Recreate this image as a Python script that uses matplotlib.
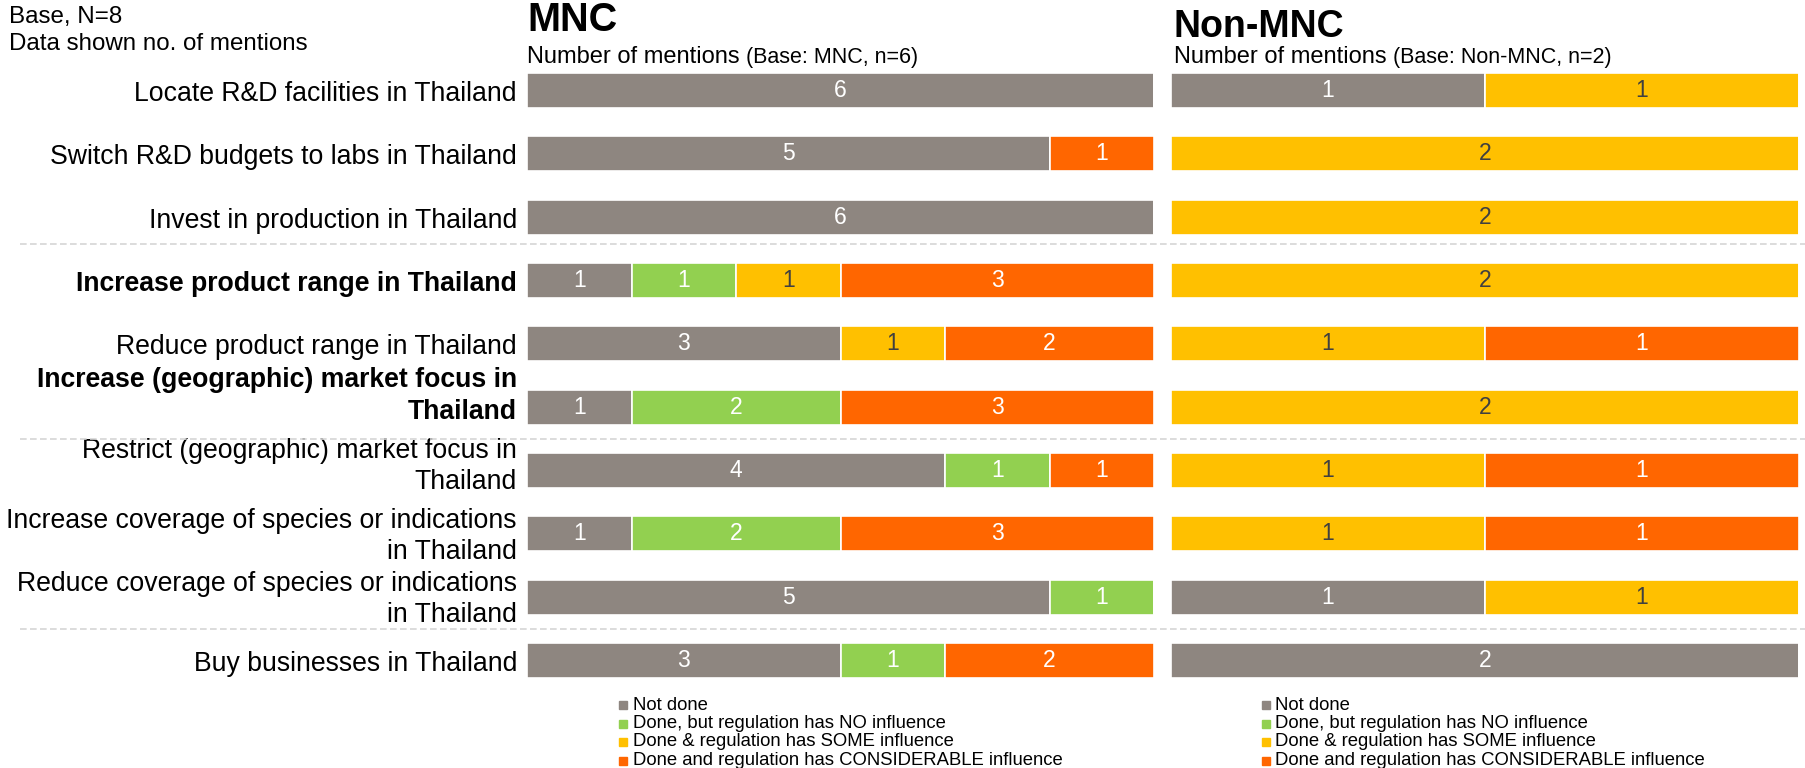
import matplotlib
matplotlib.use("Agg")
import matplotlib.pyplot as plt
from matplotlib.patches import Rectangle
from matplotlib.lines import Line2D
import matplotlib.transforms as mtransforms

plt.rcParams['font.family'] = ['Liberation Sans', 'DejaVu Sans']

# ---- data -------------------------------------------------------------
actions = [
    "Locate R&D facilities in Thailand",
    "Switch R&D budgets to labs in Thailand",
    "Invest in production in Thailand",
    "Increase product range in Thailand",
    "Reduce product range in Thailand",
    "Increase (geographic) market focus in\nThailand",
    "Restrict (geographic) market focus in\nThailand",
    "Increase coverage of species or indications\nin Thailand",
    "Reduce coverage of species or indications\nin Thailand",
    "Buy businesses in Thailand",
]
highlighted_actions = [
    "Increase product range in Thailand",
    "Increase (geographic) market focus in\nThailand",
]
responses = [
    "Not done",
    "Done, but regulation has NO influence",
    "Done & regulation has SOME influence",
    "Done and regulation has CONSIDERABLE influence",
]

mnc_not_done     = [6, 5, 6, 1, 3, 1, 4, 1, 5, 3]
mnc_no_influence = [0, 0, 0, 1, 0, 2, 1, 2, 1, 1]
mnc_some         = [0, 0, 0, 1, 1, 0, 0, 0, 0, 0]
mnc_considerable = [0, 1, 0, 3, 2, 3, 1, 3, 0, 2]

non_not_done     = [1, 0, 0, 0, 0, 0, 0, 0, 1, 2]
non_no_influence = [0, 0, 0, 0, 0, 0, 0, 0, 0, 0]
non_some         = [1, 2, 2, 2, 1, 2, 1, 1, 1, 0]
non_considerable = [0, 0, 0, 0, 1, 0, 1, 1, 0, 0]

mnc_base = 6
non_base = 2
group_breaks = [2.43, 5.5, 8.5]

colors = ["#8e8680", "#92d050", "#ffc000", "#ff6600"]
value_colors = ["white", "white", "#404040", "white"]

# ---- figure -----------------------------------------------------------
W, H = 1805, 768
fig = plt.figure(figsize=(W / 100, H / 100), dpi=100)
fig.patch.set_facecolor("white")


def axes_px(x0, x1, y0, y1):
    ax = fig.add_axes([x0 / W, 1 - y1 / H, (x1 - x0) / W, (y1 - y0) / H])
    ax.patch.set_visible(False)
    return ax


ax_m = axes_px(527, 1154, 58.8, 692.2)
ax_n = axes_px(1171, 1799, 58.8, 692.2)


def stacked(ax, series, total):
    rows = range(len(actions))
    left = [0] * len(actions)
    for k, vals in enumerate(series):
        ax.barh(rows, vals, left=left, height=0.55, color=colors[k],
                edgecolor="white", linewidth=1.2)
        for i, v in enumerate(vals):
            if v > 0:
                ax.text(left[i] + v / 2, i, str(v), ha="center", va="center",
                        fontsize=16.5, color=value_colors[k])
        left = [a + b for a, b in zip(left, vals)]
    ax.set_xlim(0, total)
    ax.set_ylim(len(actions) - 0.5, -0.5)
    for s in ax.spines.values():
        s.set_visible(False)
    ax.set_xticks([])
    ax.set_yticks([])


stacked(ax_m, [mnc_not_done, mnc_no_influence, mnc_some, mnc_considerable], mnc_base)
stacked(ax_n, [non_not_done, non_no_influence, non_some, non_considerable], non_base)

# row labels, right-aligned against the MNC bars
label_lift = {
    "Increase (geographic) market focus in\nThailand": 11,
    "Restrict (geographic) market focus in\nThailand": 4,
    "Increase coverage of species or indications\nin Thailand": -2.5,
    "Reduce coverage of species or indications\nin Thailand": -2.5,
}
label_trans = ax_m.get_yaxis_transform()
for i, name in enumerate(actions):
    lift = label_lift.get(name, -3.5)
    off = mtransforms.offset_copy(label_trans, fig=fig, x=-10, y=lift,
                                  units="dots")
    ax_m.text(0, i, name, transform=off, ha="right", va="center",
              multialignment="right", fontsize=19.2, linespacing=1.27,
              fontweight="bold" if name in highlighted_actions else "normal")

# dashed group separators across the full width
trans = mtransforms.blended_transform_factory(fig.transFigure, ax_m.transData)
for y in group_breaks:
    fig.add_artist(Line2D([20 / W, 1.0], [y, y], transform=trans,
                          color="#d6d6d6", lw=1.2, ls=(0, (4, 2))))

# ---- headings ---------------------------------------------------------
fig.text(9 / W, 1 - 23 / H, "Base, N=8", fontsize=17.4, va="baseline")
fig.text(9 / W, 1 - 49.5 / H, "Data shown no. of mentions", fontsize=17.4,
         va="baseline")

for x0, base_y, size, title, base_note in [
        (527, 31, 28.5, "MNC", " (Base: MNC, n=6)"),
        (1174, 37, 27, "Non-MNC", " (Base: Non-MNC, n=2)")]:
    fig.text(x0 / W, 1 - base_y / H, title, fontsize=size, fontweight="bold",
             va="baseline")
    t = fig.text(x0 / W, 1 - 63 / H, "Number of mentions", fontsize=17,
                 va="baseline")
    ax_m.annotate(base_note, xy=(1, 0), xycoords=t, va="bottom", ha="left",
                  fontsize=15.5, annotation_clip=False)

# ---- legends ----------------------------------------------------------
legend_rows = [705, 723.5, 742, 760.5]
for sq_x, txt_x in [(619, 633), (1262, 1275)]:
    for k, label in enumerate(responses):
        yc = legend_rows[k]
        fig.add_artist(Rectangle((sq_x / W, 1 - (yc + 4) / H), 8 / W, 8 / H,
                                 transform=fig.transFigure, color=colors[k]))
        fig.text(txt_x / W, 1 - yc / H, label, fontsize=13.3, va="center")

fig.savefig("out.png", dpi=100, facecolor="white")
